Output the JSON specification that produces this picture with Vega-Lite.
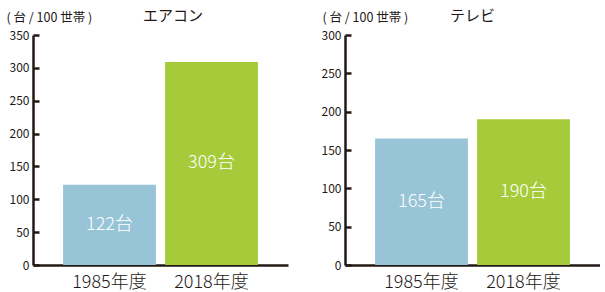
{
  "$schema": "https://vega.github.io/schema/vega-lite/v6.json",
  "padding": {"left": 6, "top": 9, "right": 0, "bottom": 0},
  "background": "white",
  "config": {
    "view": {"stroke": null},
    "font": "Noto Sans CJK JP",
    "axis": {
      "domainColor": "#231815",
      "domainWidth": 2.5,
      "tickColor": "#231815",
      "tickWidth": 2.5,
      "labelColor": "#231815",
      "grid": false
    },
    "title": {"fontSize": 15, "fontWeight": "normal", "color": "#231815", "anchor": "start", "frame": "group", "offset": -13}
  },
  "spacing": 30,
  "hconcat": [
    {
      "width": 255,
      "height": 230,
      "title": {"text": "エアコン", "dx": 110},
      "data": {"values": [
        {"year": "1985年度", "value": 122, "label": "122台"},
        {"year": "2018年度", "value": 309, "label": "309台"}
      ]},
      "encoding": {
        "x": {"field": "year", "type": "nominal", "sort": null,
          "scale": {"paddingInner": 0.09, "paddingOuter": 0.295},
          "axis": {"title": null, "ticks": false, "labelAngle": 0, "labelFontSize": 18, "labelFontWeight": 300, "labelPadding": 8}},
        "y": {"field": "value", "type": "quantitative",
          "scale": {"domain": [0, 350]},
          "axis": {"values": [0, 50, 100, 150, 200, 250, 300, 350], "tickSize": -6, "labelPadding": 10,
            "labelFontSize": 12, "minExtent": 27, "maxExtent": 27,
            "title": "( 台 / 100 世帯 )", "titleAngle": 0, "titleAlign": "left", "titleBaseline": "middle",
            "titleX": -27, "titleY": -18, "titleFontSize": 12.5, "titleFontWeight": "normal", "titleColor": "#231815"}}
      },
      "layer": [
        {"mark": {"type": "bar"},
          "encoding": {"color": {"field": "year", "type": "nominal", "sort": null,
            "scale": {"range": ["#98c4d7", "#a6cb3a"]}, "legend": null}}},
        {"mark": {"type": "text", "color": "white", "fontSize": 18, "fontWeight": 300},
          "encoding": {
            "y": {"field": "value", "type": "quantitative", "stack": "zero", "bandPosition": 0.5},
            "text": {"field": "label"}}}
      ]
    },
    {
      "width": 255,
      "height": 230,
      "title": {"text": "テレビ", "dx": 105},
      "data": {"values": [
        {"year": "1985年度", "value": 165, "label": "165台"},
        {"year": "2018年度", "value": 190, "label": "190台"}
      ]},
      "encoding": {
        "x": {"field": "year", "type": "nominal", "sort": null,
          "scale": {"paddingInner": 0.09, "paddingOuter": 0.295},
          "axis": {"title": null, "ticks": false, "labelAngle": 0, "labelFontSize": 18, "labelFontWeight": 300, "labelPadding": 8}},
        "y": {"field": "value", "type": "quantitative",
          "scale": {"domain": [0, 300]},
          "axis": {"values": [0, 50, 100, 150, 200, 250, 300], "tickSize": -6, "labelPadding": 10,
            "labelFontSize": 12, "minExtent": 27, "maxExtent": 27,
            "title": "( 台 / 100 世帯 )", "titleAngle": 0, "titleAlign": "left", "titleBaseline": "middle",
            "titleX": -23, "titleY": -18, "titleFontSize": 12.5, "titleFontWeight": "normal", "titleColor": "#231815"}}
      },
      "layer": [
        {"mark": {"type": "bar"},
          "encoding": {"color": {"field": "year", "type": "nominal", "sort": null,
            "scale": {"range": ["#98c4d7", "#a6cb3a"]}, "legend": null}}},
        {"mark": {"type": "text", "color": "white", "fontSize": 18, "fontWeight": 300},
          "encoding": {
            "y": {"field": "value", "type": "quantitative", "stack": "zero", "bandPosition": 0.5},
            "text": {"field": "label"}}}
      ]
    }
  ]
}
